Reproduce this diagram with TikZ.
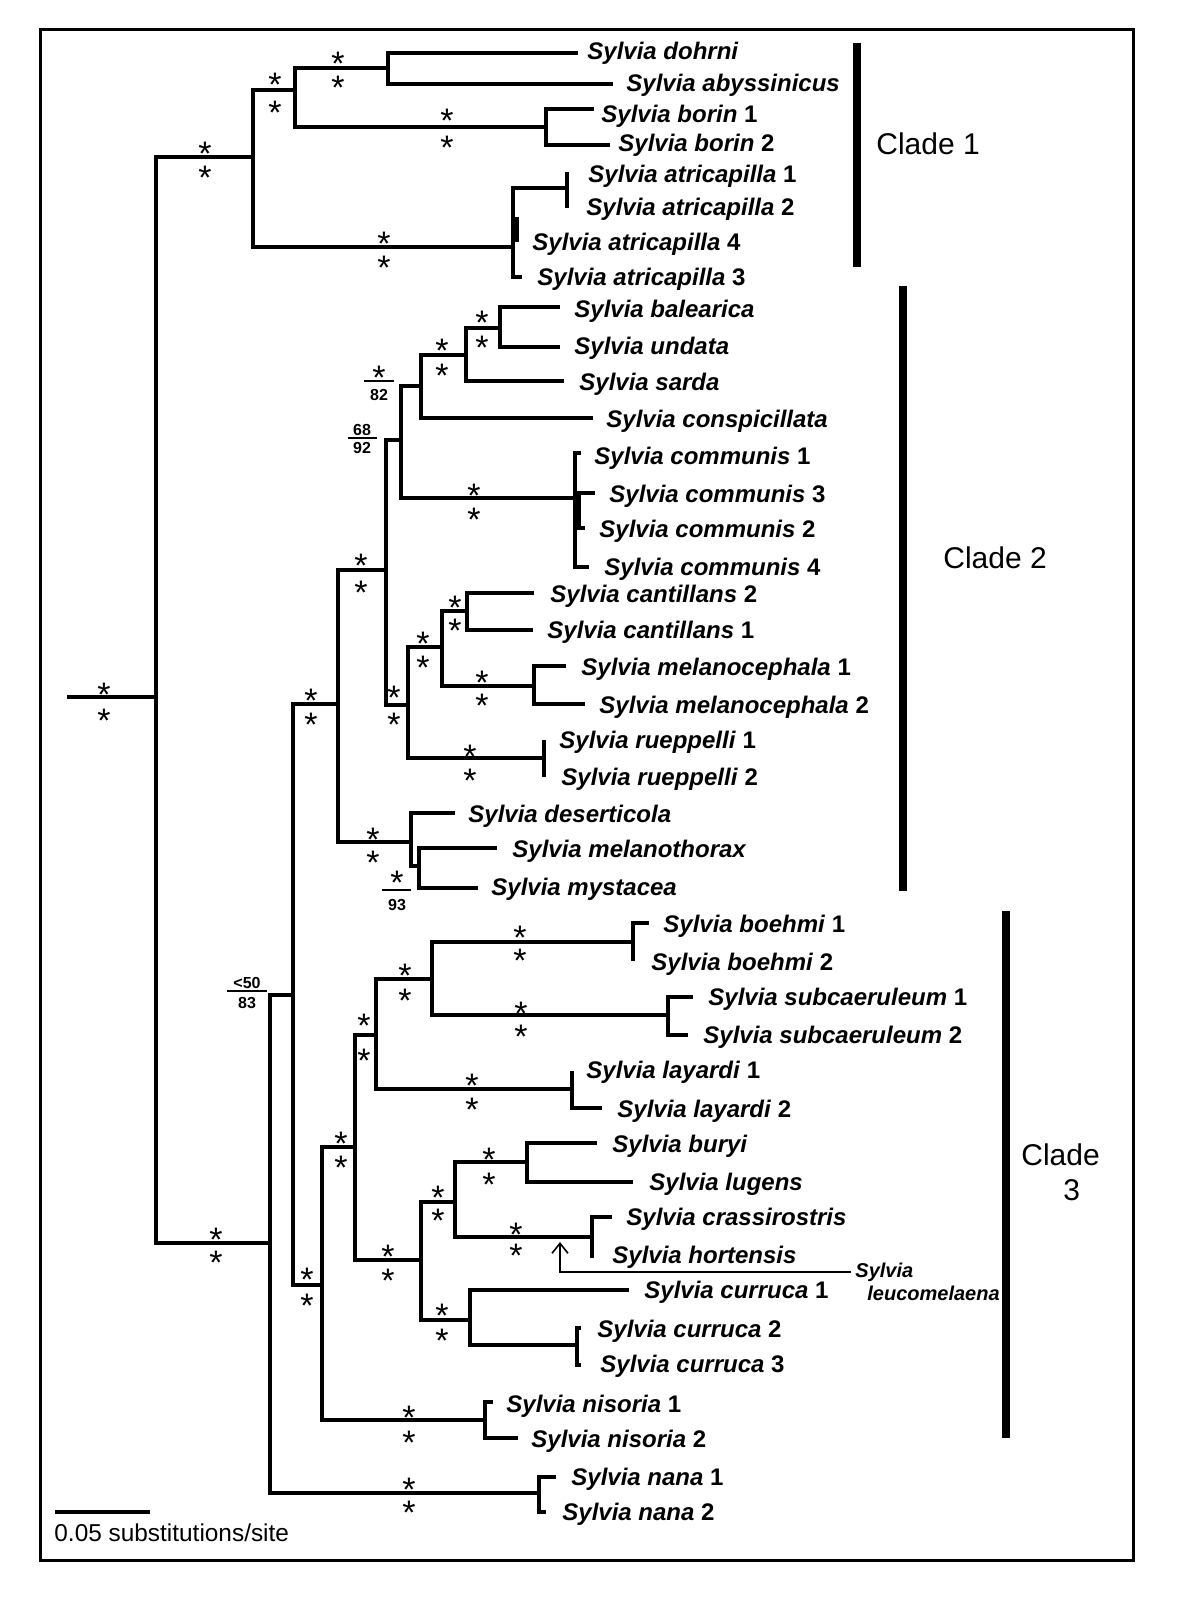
\documentclass[tikz,border=0pt]{standalone}
\usepackage{fontspec}
\setmainfont{Liberation Sans}
\usetikzlibrary{arrows.meta}

\begin{document}
\begin{tikzpicture}[x=0.5pt,y=-0.5pt,br/.style={line width=2pt},taxon/.style={anchor=base west,inner sep=0pt,font=\bfseries\fontsize{12}{14}\selectfont},ast/.style={inner sep=0pt,font=\fontsize{17}{17}\selectfont,node contents={\raisebox{-7.2pt}[5pt][0pt]{*}}},fr/.style={anchor=base,inner sep=0pt,font=\bfseries\fontsize{8}{8}\selectfont},clade/.style={anchor=base west,inner sep=0pt,font=\fontsize{15}{17}\selectfont},bar/.style={line width=4pt},lm/.style={anchor=base west,inner xsep=2pt,inner ysep=0pt,font=\bfseries\itshape\fontsize{10}{12}\selectfont},ptr/.style={line width=0.8pt,-{Straight Barb[length=5pt,width=8pt]}}]
\useasboundingbox (0,0) rectangle (1200,1600);
\draw[line width=1.5pt] (40,30) rectangle (1133,1560);
% internal nodes
\coordinate (root0) at (67,697); \coordinate (root) at (156,697);
\coordinate (ncl1) at (253,157); \coordinate (nB) at (295,90); \coordinate (nC) at (388,68);
\coordinate (nborin) at (546,127); \coordinate (natr) at (513,247); \coordinate (natr12) at (567,188); \coordinate (natr4) at (517,217);
\coordinate (nP) at (270,1243); \coordinate (nQ) at (293,995); \coordinate (nH) at (338,704);
\coordinate (nG) at (386,570); \coordinate (nF) at (401,440); \coordinate (nE) at (421,386);
\coordinate (nsar) at (466,355); \coordinate (nbu) at (500,328); \coordinate (ncomm) at (575,498); \coordinate (ncomm2) at (579,510);
\coordinate (nJ) at (408,705); \coordinate (nI) at (442,647); \coordinate (ncan) at (467,611);
\coordinate (nmel) at (534,686); \coordinate (nrue) at (544,758); \coordinate (ndes) at (411,842); \coordinate (nmys) at (419,866);
\coordinate (nR) at (322,1285); \coordinate (nY) at (355,1147); \coordinate (nX) at (376,1035);
\coordinate (nW) at (432,979); \coordinate (nboe) at (633,942); \coordinate (nsub) at (668,1015); \coordinate (nlay) at (572,1089);
\coordinate (nT) at (421,1260); \coordinate (nV) at (455,1202); \coordinate (nbl) at (527,1162); \coordinate (nch) at (592,1237);
\coordinate (nU) at (470,1320); \coordinate (ncur) at (577,1345); \coordinate (nnis) at (485,1420); \coordinate (nnana) at (539,1493);
% tips and taxa
\coordinate (dohrni) at (578,53); \node[taxon] (Ldohrni) at (587,60) {\textit{Sylvia dohrni}};
\coordinate (abyss) at (613,84); \node[taxon] (Labyss) at (626,92) {\textit{Sylvia abyssinicus}};
\coordinate (borin1) at (594,109); \node[taxon] (Lborin1) at (601,123) {\textit{Sylvia borin} 1};
\coordinate (borin2) at (610,145); \node[taxon] (Lborin2) at (618,151) {\textit{Sylvia borin} 2};
\coordinate (atr1) at (567,172); \node[taxon] (Latr1) at (588,183) {\textit{Sylvia atricapilla} 1};
\coordinate (atr2) at (567,208); \node[taxon] (Latr2) at (586,215) {\textit{Sylvia atricapilla} 2};
\coordinate (atr4) at (519,240); \node[taxon] (Latr4) at (532,250) {\textit{Sylvia atricapilla} 4};
\coordinate (atr3) at (522,277); \node[taxon] (Latr3) at (537,285) {\textit{Sylvia atricapilla} 3};
\coordinate (bal) at (560,307); \node[taxon] (Lbal) at (574,317) {\textit{Sylvia balearica}};
\coordinate (undata) at (560,347); \node[taxon] (Lundata) at (574,354) {\textit{Sylvia undata}};
\coordinate (sarda) at (564,381); \node[taxon] (Lsarda) at (579,390) {\textit{Sylvia sarda}};
\coordinate (consp) at (593,418); \node[taxon] (Lconsp) at (606,427) {\textit{Sylvia conspicillata}};
\coordinate (comm1) at (581,453); \node[taxon] (Lcomm1) at (594,464) {\textit{Sylvia communis} 1};
\coordinate (comm3) at (595,493); \node[taxon] (Lcomm3) at (609,502) {\textit{Sylvia communis} 3};
\coordinate (comm2) at (585,528); \node[taxon] (Lcomm2) at (599,537) {\textit{Sylvia communis} 2};
\coordinate (comm4) at (589,567); \node[taxon] (Lcomm4) at (604,575) {\textit{Sylvia communis} 4};
\coordinate (cant2) at (534,593); \node[taxon] (Lcant2) at (550,602) {\textit{Sylvia cantillans} 2};
\coordinate (cant1) at (533,630); \node[taxon] (Lcant1) at (547,638) {\textit{Sylvia cantillans} 1};
\coordinate (mel1) at (566,666); \node[taxon] (Lmel1) at (581,675) {\textit{Sylvia melanocephala} 1};
\coordinate (mel2) at (585,704); \node[taxon] (Lmel2) at (599,713) {\textit{Sylvia melanocephala} 2};
\coordinate (rue1) at (544,740); \node[taxon] (Lrue1) at (559,748) {\textit{Sylvia rueppelli} 1};
\coordinate (rue2) at (544,777); \node[taxon] (Lrue2) at (561,785) {\textit{Sylvia rueppelli} 2};
\coordinate (desert) at (455,813); \node[taxon] (Ldesert) at (468,822) {\textit{Sylvia deserticola}};
\coordinate (melth) at (497,848); \node[taxon] (Lmelth) at (512,857) {\textit{Sylvia melanothorax}};
\coordinate (mysta) at (478,888); \node[taxon] (Lmysta) at (491,895) {\textit{Sylvia mystacea}};
\coordinate (boe1) at (649,923); \node[taxon] (Lboe1) at (663,932) {\textit{Sylvia boehmi} 1};
\coordinate (boe2) at (633,961); \node[taxon] (Lboe2) at (651,970) {\textit{Sylvia boehmi} 2};
\coordinate (sub1) at (693,997); \node[taxon] (Lsub1) at (708,1005) {\textit{Sylvia subcaeruleum} 1};
\coordinate (sub2) at (688,1035); \node[taxon] (Lsub2) at (703,1043) {\textit{Sylvia subcaeruleum} 2};
\coordinate (lay1) at (572,1071); \node[taxon] (Llay1) at (586,1078) {\textit{Sylvia layardi} 1};
\coordinate (lay2) at (602,1108); \node[taxon] (Llay2) at (617,1117) {\textit{Sylvia layardi} 2};
\coordinate (buryi) at (597,1143); \node[taxon] (Lburyi) at (612,1152) {\textit{Sylvia buryi}};
\coordinate (lugens) at (633,1182); \node[taxon] (Llugens) at (649,1190) {\textit{Sylvia lugens}};
\coordinate (crass) at (612,1217); \node[taxon] (Lcrass) at (626,1225) {\textit{Sylvia crassirostris}};
\coordinate (horten) at (594,1256); \node[taxon] (Lhorten) at (612,1263) {\textit{Sylvia hortensis}};
\coordinate (cur1) at (629,1290); \node[taxon] (Lcur1) at (644,1298) {\textit{Sylvia curruca} 1};
\coordinate (cur2) at (581,1328); \node[taxon] (Lcur2) at (597,1337) {\textit{Sylvia curruca} 2};
\coordinate (cur3) at (581,1365); \node[taxon] (Lcur3) at (600,1372) {\textit{Sylvia curruca} 3};
\coordinate (nis1) at (493,1402); \node[taxon] (Lnis1) at (506,1412) {\textit{Sylvia nisoria} 1};
\coordinate (nis2) at (518,1438); \node[taxon] (Lnis2) at (531,1447) {\textit{Sylvia nisoria} 2};
\coordinate (nana1) at (556,1477); \node[taxon] (Lnana1) at (571,1485) {\textit{Sylvia nana} 1};
\coordinate (nana2) at (546,1512); \node[taxon] (Lnana2) at (562,1520) {\textit{Sylvia nana} 2};
% branches
\draw[br](root0)--(root); \draw[br](root)|-(ncl1); \draw[br](root)|-(nP);
\draw[br](ncl1)|-(nB); \draw[br](ncl1)|-(natr); \draw[br](nB)|-(nC); \draw[br](nB)|-(nborin);
\draw[br](nC)|-(dohrni); \draw[br](nC)|-(abyss); \draw[br](nborin)|-(borin1); \draw[br](nborin)|-(borin2);
\draw[br](natr)|-(natr12); \draw[br](natr)|-(atr4); \draw[br](natr)|-(atr3); \draw[br](natr4)|-(atr4);
\draw[br](natr12)|-(atr1); \draw[br](natr12)|-(atr2);
\draw[br](nP)|-(nQ); \draw[br](nP)|-(nnana); \draw[br](nQ)|-(nH); \draw[br](nQ)|-(nR);
\draw[br](nH)|-(nG); \draw[br](nH)|-(ndes); \draw[br](nG)|-(nF); \draw[br](nG)|-(nJ);
\draw[br](nF)|-(nE); \draw[br](nF)|-(ncomm); \draw[br](nE)|-(nsar); \draw[br](nE)|-(consp);
\draw[br](nsar)|-(nbu); \draw[br](nsar)|-(sarda); \draw[br](nbu)|-(bal); \draw[br](nbu)|-(undata);
\draw[br](ncomm)|-(comm1); \draw[br](ncomm)|-(comm4); \draw[br](ncomm)|-(ncomm2); \draw[br](ncomm2)|-(comm3); \draw[br](ncomm2)|-(comm2);
\draw[br](nJ)|-(nI); \draw[br](nJ)|-(nrue); \draw[br](nI)|-(ncan); \draw[br](nI)|-(nmel);
\draw[br](ncan)|-(cant2); \draw[br](ncan)|-(cant1); \draw[br](nmel)|-(mel1); \draw[br](nmel)|-(mel2);
\draw[br](nrue)|-(rue1); \draw[br](nrue)|-(rue2);
\draw[br](ndes)|-(desert); \draw[br](ndes)|-(nmys); \draw[br](nmys)|-(melth); \draw[br](nmys)|-(mysta);
\draw[br](nR)|-(nY); \draw[br](nR)|-(nnis); \draw[br](nY)|-(nX); \draw[br](nY)|-(nT);
\draw[br](nX)|-(nW); \draw[br](nX)|-(nlay); \draw[br](nW)|-(nboe); \draw[br](nW)|-(nsub);
\draw[br](nboe)|-(boe1); \draw[br](nboe)|-(boe2); \draw[br](nsub)|-(sub1); \draw[br](nsub)|-(sub2);
\draw[br](nlay)|-(lay1); \draw[br](nlay)|-(lay2);
\draw[br](nT)|-(nV); \draw[br](nT)|-(nU); \draw[br](nV)|-(nbl); \draw[br](nV)|-(nch);
\draw[br](nbl)|-(buryi); \draw[br](nbl)|-(lugens); \draw[br](nch)|-(crass); \draw[br](nch)|-(horten);
\draw[br](nU)|-(cur1); \draw[br](nU)|-(ncur); \draw[br](ncur)|-(cur2); \draw[br](ncur)|-(cur3);
\draw[br](nnis)|-(nis1); \draw[br](nnis)|-(nis2); \draw[br](nnana)|-(nana1); \draw[br](nnana)|-(nana2);
% support values
\foreach \x/\ya/\yb [count=\i] in {104/687/713,205/146/170,275/77/105,338/56/80,447/113/140,384/236/260,482/315/340,442/343/368,474/488/512,361/558/585,455/600/623,423/636/660,482/675/698,394/690/717,470/749/773,311/693/717,373/832/855,520/930/953,521/1006/1029,405/968/993,472/1078/1102,364/1018/1053,341/1136/1160,489/1152/1177,516/1227/1248,438/1190/1213,388/1249/1273,442/1308/1333,307/1272/1298,409/1410/1435,409/1482/1505,216/1232/1255}
  {\node (sa\i) at (\x,\ya) [ast]; \node (sb\i) at (\x,\yb) [ast];}
\node (s82) at (379,370) [ast]; \draw[line width=0.6pt] (364,381)--(394,381); \node[fr] (f82) at (379,400) {82};
\node[fr] (f68) at (362,435) {68}; \draw[line width=0.6pt] (348,438)--(377,438); \node[fr] (f92) at (362,453) {92};
\node (s93) at (397,875) [ast]; \draw[line width=0.6pt] (382,890)--(411,890); \node[fr] (f93) at (397,910) {93};
\node[fr] (f50) at (247,988) {<50}; \draw[line width=0.6pt] (227,991)--(267,991); \node[fr] (f83) at (247,1008) {83};
% clades
\draw[bar] (857,43)--(857,267); \node[clade] (cl1) at (876,155) {Clade 1};
\draw[bar] (903,286)--(903,891); \node[clade] (cl2) at (943,568) {Clade 2};
\draw[bar] (1006,911)--(1006,1438); \node[clade] (cl3) at (1021,1165) {Clade}; \node[clade] (cl3n) at (1063,1200) {3};
% leucomelaena
\coordinate (lmtip) at (560,1242);
\node[lm] (leuco1) at (851,1277) {Sylvia}; \node[lm] (leuco2) at (863,1300) {leucomelaena};
\draw[ptr] (leuco1.west) -| (lmtip);
% scale
\coordinate (sc0) at (55,1512); \coordinate (sc1) at (150,1512);
\draw[line width=2pt] (sc0)--(sc1);
\node[anchor=base west,inner sep=0pt,font=\fontsize{12.2}{14}\selectfont] (scale) at (54,1541) {0.05 substitutions/site};
\end{tikzpicture}
\end{document}
